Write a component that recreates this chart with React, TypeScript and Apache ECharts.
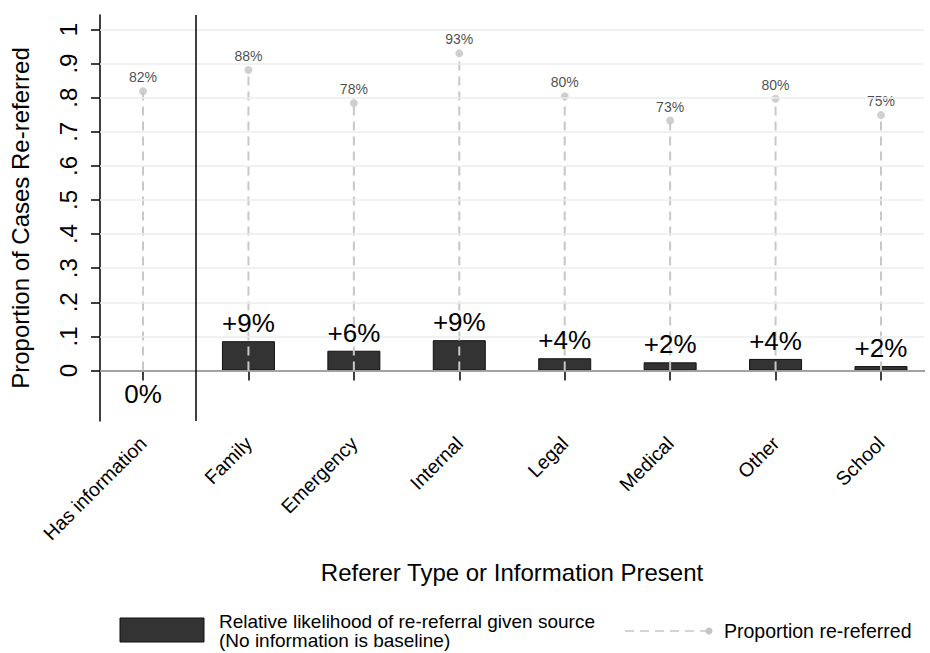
import React, { useEffect, useRef } from "react";
import * as echarts from "echarts";

const categories = ["Has information", "Family", "Emergency", "Internal", "Legal", "Medical", "Other", "School"];
const positions = [1, 2, 3, 4, 5, 6, 7, 8];
const relativeLikelihood = [0, 0.086, 0.058, 0.089, 0.036, 0.024, 0.034, 0.013];
const relativeLabels = ["0%", "+9%", "+6%", "+9%", "+4%", "+2%", "+4%", "+2%"];
const proportionReReferred = [0.819, 0.881, 0.784, 0.93, 0.804, 0.733, 0.797, 0.749];
const yTickValues = [0, 0.1, 0.2, 0.3, 0.4, 0.5, 0.6, 0.7, 0.8, 0.9, 1];
const yTickLabels = ["0", ".1", ".2", ".3", ".4", ".5", ".6", ".7", ".8", ".9", "1"];

const FONT = "'Liberation Sans', Arial, sans-serif";

export default function App() {
  const ref = useRef<HTMLDivElement>(null);
  useEffect(() => {
    if (!ref.current) return;
    const chart = echarts.init(ref.current, undefined, { renderer: "svg" });
    const yLabel = (v: number) => {
      let best = 0;
      for (let i = 0; i < yTickValues.length; i++) {
        if (Math.abs(yTickValues[i] - v) < Math.abs(yTickValues[best] - v)) best = i;
      }
      return yTickLabels[best];
    };
    const xLabel = (v: number) => {
      const i = positions.indexOf(Math.round(v));
      return i >= 0 ? categories[i] : "";
    };
    const barData = positions.map((p, i) => {
      if (i === 0) {
        return {
          value: [p, relativeLikelihood[i]],
          itemStyle: { color: "transparent", borderWidth: 0 },
        };
      }
      return { value: [p, relativeLikelihood[i]] };
    });
    const labelData = positions.map((p, i) => {
      if (i === 0) {
        return { value: [p, relativeLikelihood[i]], label: { position: "bottom", distance: 10 } };
      }
      return { value: [p, relativeLikelihood[i]] };
    });
    const option: any = {
      animation: false,
      textStyle: { fontFamily: FONT },
      grid: { left: 100, right: 6, top: 15, bottom: 232 },
      xAxis: {
        type: "value",
        min: 0.592,
        max: 8.408,
        name: "Referer Type or Information Present",
        nameLocation: "middle",
        nameGap: 139,
        nameTextStyle: { fontSize: 24, color: "#000", fontFamily: FONT },
        axisLine: { show: true, lineStyle: { color: "#000", width: 1.5 } },
        axisTick: { show: true, customValues: positions, length: 10, lineStyle: { color: "#000", width: 1.5 } },
        axisLabel: {
          customValues: positions,
          formatter: xLabel,
          rotate: 45,
          fontSize: 19.5,
          color: "#000",
          margin: 19,
          fontFamily: FONT,
        },
        splitLine: { show: false },
      },
      yAxis: {
        type: "value",
        min: -0.148,
        max: 1.0425,
        name: "Proportion of Cases Re-referred",
        nameLocation: "middle",
        nameGap: 68,
        nameRotate: 90,
        nameTextStyle: { fontSize: 24, color: "#000", fontFamily: FONT },
        axisLine: { show: true, onZero: false, lineStyle: { color: "#000", width: 1.5 } },
        axisTick: { show: true, customValues: yTickValues, length: 9, lineStyle: { color: "#000", width: 1.5 } },
        axisLabel: {
          customValues: yTickValues,
          formatter: yLabel,
          rotate: 90,
          fontSize: 24,
          color: "#000",
          margin: 20,
          fontFamily: FONT,
        },
        splitLine: { show: false },
      },
      series: [
        {
          type: "line",
          data: [],
          z: 1,
          silent: true,
          markLine: {
            silent: true,
            symbol: "none",
            label: { show: false },
            animation: false,
            data: [
              ...yTickValues.slice(1).map((v) => ({ yAxis: v, lineStyle: { color: "#e8eef1", width: 1.5, type: "solid" } })),
              { yAxis: 0, lineStyle: { color: "#c4c4c4", width: 1.5, type: "solid" } },
              { xAxis: 1.5, lineStyle: { color: "#000", width: 1.5, type: "solid" } },
            ],
          },
        },
        {
          name: "Relative likelihood of re-referral given source",
          type: "bar",
          z: 2,
          barWidth: 53,
          data: barData,
          itemStyle: { color: "#333333", borderColor: "#111", borderWidth: 1 },
        },
        {
          name: "drop",
          type: "custom",
          z: 3,
          silent: true,
          data: positions.map((p, i) => [p, proportionReReferred[i]]),
          renderItem: (params: any, api: any) => {
            const x = api.value(0);
            const y = api.value(1);
            const p0 = api.coord([x, 0]);
            const p1 = api.coord([x, y]);
            return {
              type: "line",
              shape: { x1: p0[0], y1: p0[1], x2: p1[0], y2: p1[1] },
              style: { stroke: "#c8c8c8", lineWidth: 2, lineDash: [9, 6] },
            };
          },
        },
        {
          name: "Proportion re-referred",
          type: "scatter",
          z: 4,
          symbol: "circle",
          symbolSize: 8,
          data: positions.map((p, i) => [p, proportionReReferred[i]]),
          itemStyle: { color: "#c4c4c4" },
          label: {
            show: true,
            position: "top",
            distance: 3,
            fontSize: 14,
            color: "#1a1a1a",
            fontFamily: FONT,
            formatter: (p: any) => Math.round(p.value[1] * 100) + "%",
          },
        },
        {
          name: "labels",
          type: "bar",
          z: 5,
          silent: true,
          barWidth: 53,
          barGap: "-100%",
          data: labelData,
          itemStyle: { color: "transparent", borderWidth: 0 },
          label: {
            show: true,
            position: "top",
            distance: 5,
            fontSize: 26,
            color: "#000",
            fontFamily: FONT,
            formatter: (p: any) => relativeLabels[p.dataIndex],
          },
        },
      ],
      graphic: [
        {
          type: "rect",
          shape: { x: 120, y: 618, width: 84, height: 24 },
          style: { fill: "#333333", stroke: "#111", lineWidth: 1 },
        },
        {
          type: "text",
          x: 219,
          y: 621.5,
          style: {
            text: "Relative likelihood of re-referral given source",
            fontSize: 19,
            fill: "#000",
            fontFamily: FONT,
            verticalAlign: "middle",
            align: "left",
          },
        },
        {
          type: "text",
          x: 219,
          y: 640.5,
          style: {
            text: "(No information is baseline)",
            fontSize: 19,
            fill: "#000",
            fontFamily: FONT,
            verticalAlign: "middle",
            align: "left",
          },
        },
        {
          type: "line",
          shape: { x1: 625, y1: 631, x2: 706, y2: 631 },
          style: { stroke: "#c8c8c8", lineWidth: 1.5, lineDash: [9, 6] },
        },
        {
          type: "circle",
          shape: { cx: 709, cy: 631, r: 3.5 },
          style: { fill: "#c4c4c4" },
        },
        {
          type: "text",
          x: 724,
          y: 631,
          style: {
            text: "Proportion re-referred",
            fontSize: 19.5,
            fill: "#000",
            fontFamily: FONT,
            verticalAlign: "middle",
            align: "left",
          },
        },
      ],
    };
    chart.setOption(option);
    return () => chart.dispose();
  }, []);
  return <div ref={ref} style={{ width: 930, height: 653, position: "absolute", left: 0, top: 0 }} />;
}
